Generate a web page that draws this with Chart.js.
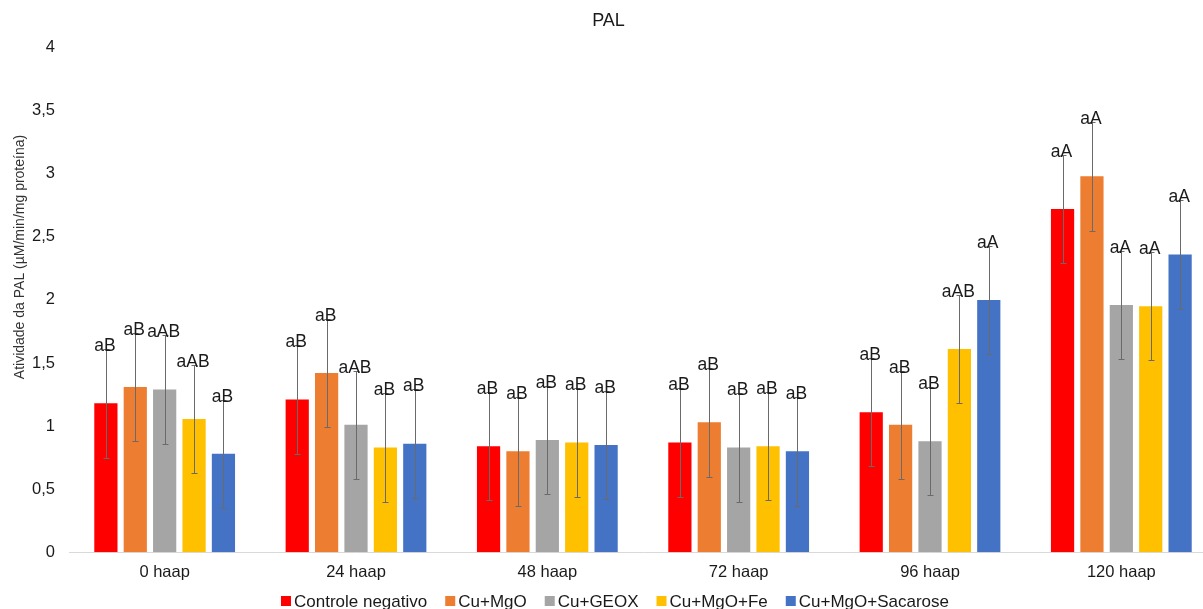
<!DOCTYPE html>
<html><head><meta charset="utf-8">
<script src="https://cdn.jsdelivr.net/npm/chart.js@4.4.1/dist/chart.umd.min.js"></script>
<style>html,body{margin:0;padding:0;overflow:hidden;background:#fff}#wrap{width:1220px;height:609px;position:relative}</style>
</head><body><div id="wrap"><canvas id="c"></canvas></div>
<script>
const categories = ['0 haap','24 haap','48 haap','72 haap','96 haap','120 haap'];
const seriesNames = ['Controle negativo','Cu+MgO','Cu+GEOX','Cu+MgO+Fe','Cu+MgO+Sacarose'];
const yTicks = [0,0.5,1,1.5,2,2.5,3,3.5,4];

const controle  = [1.18, 1.21, 0.84, 0.87, 1.11, 2.72];
const cuMgO     = [1.31, 1.42, 0.80, 1.03, 1.01, 2.98];
const cuGeox    = [1.29, 1.01, 0.89, 0.83, 0.88, 1.96];
const cuMgOFe   = [1.055,0.83, 0.87, 0.84, 1.61, 1.95];
const cuMgOSac  = [0.78, 0.86, 0.85, 0.80, 2.00, 2.36];

const errControle = [0.43,0.43,0.43,0.43,0.43,0.43];
const errCuMgO    = [0.43,0.43,0.43,0.43,0.43,0.43];
const errCuGeox   = [0.43,0.43,0.43,0.43,0.43,0.43];
const errCuMgOFe  = [0.43,0.43,0.43,0.43,0.43,0.43];
const errCuMgOSac = [0.43,0.43,0.43,0.43,0.43,0.43];

const lblControle = ['aB','aB','aB','aB','aB','aA'];
const lblCuMgO    = ['aB','aB','aB','aB','aB','aA'];
const lblCuGeox   = ['aAB','aAB','aB','aB','aB','aA'];
const lblCuMgOFe  = ['aAB','aB','aB','aB','aAB','aA'];
const lblCuMgOSac = ['aB','aB','aB','aB','aA','aA'];

const colors = ['#FF0000','#ED7D31','#A5A5A5','#FFC000','#4472C4'];
const values = [controle,cuMgO,cuGeox,cuMgOFe,cuMgOSac];
const errors = [errControle,errCuMgO,errCuGeox,errCuMgOFe,errCuMgOSac];
const marks  = [lblControle,lblCuMgO,lblCuGeox,lblCuMgOFe,lblCuMgOSac];

const FONT = "'Liberation Sans', Arial, sans-serif";

const overlay = {
  id:'overlay',
  afterDatasetsDraw(chart){
    const ctx = chart.ctx, ys = chart.scales.y;
    ctx.save();
    chart.data.datasets.forEach((ds,i)=>{
      const meta = chart.getDatasetMeta(i);
      meta.data.forEach((bar,j)=>{
        const v = ds.data[j], e = ds.errors[j];
        const yt = Math.round(ys.getPixelForValue(v+e))+0.5;
        const yb = Math.round(ys.getPixelForValue(v-e))+0.5;
        const x = Math.round(bar.x)+0.5;
        ctx.strokeStyle = '#6a6a6a';
        ctx.lineWidth = 1;
        ctx.beginPath();
        ctx.moveTo(x,yt); ctx.lineTo(x,yb);
        ctx.moveTo(x-3,yt); ctx.lineTo(x+3,yt);
        ctx.moveTo(x-3,yb); ctx.lineTo(x+3,yb);
        ctx.stroke();
        ctx.fillStyle = '#1a1a1a';
        ctx.font = "17.5px " + FONT;
        ctx.textAlign = 'center';
        ctx.textBaseline = 'alphabetic';
        ctx.fillText(ds.marks[j], bar.x-1, yt+1);
      });
    });
    ctx.restore();
  },
  afterDraw(chart){
    const ctx = chart.ctx, ca = chart.chartArea;
    ctx.save();
    // y-axis title
    ctx.translate(20.5, ca.top + ca.height*0.415);
    ctx.rotate(-Math.PI/2);
    ctx.fillStyle = '#333';
    ctx.font = "14px " + FONT;
    ctx.textAlign = 'center';
    ctx.textBaseline = 'middle';
    ctx.fillText('Atividade da PAL (µM/min/mg proteína)', 0, 0);
    ctx.restore();
    // legend
    ctx.save();
    ctx.font = "17px " + FONT;
    const box = 10, gapBT = 3, gapItem = 18;
    const dsets = chart.data.datasets;
    const widths = dsets.map(d => box + gapBT + ctx.measureText(d.label).width);
    const total = widths.reduce((a,b)=>a+b,0) + gapItem*(dsets.length-1);
    let x = 615 - total/2;
    const yc = 601;
    ctx.textBaseline = 'middle';
    ctx.textAlign = 'left';
    dsets.forEach((d,i)=>{
      ctx.fillStyle = d.backgroundColor;
      ctx.fillRect(x, yc-5, box, box);
      ctx.fillStyle = '#1a1a1a';
      ctx.fillText(d.label, x+box+gapBT, yc+1);
      x += widths[i] + gapItem;
    });
    ctx.restore();
  }
};

new Chart(document.getElementById('c'), {
  type:'bar',
  data:{
    labels: categories,
    datasets: seriesNames.map((n,i)=>({
      label:n, data:values[i], errors:errors[i], marks:marks[i],
      backgroundColor:colors[i], borderWidth:0,
      categoryPercentage:0.768, barPercentage:0.79
    }))
  },
  options:{
    responsive:true, maintainAspectRatio:false, animation:false,
    layout:{padding:{left:0,right:3,top:0,bottom:17}},
    plugins:{
      title:{display:true,text:'PAL',color:'#1a1a1a',font:{family:FONT,size:18,weight:'normal'},padding:{top:10,bottom:16}},
      legend:{display:false},
      tooltip:{enabled:false}
    },
    scales:{
      x:{
        grid:{display:false,drawTicks:false},
        border:{display:true,color:'#d9d9d9',width:1},
        ticks:{color:'#1a1a1a',font:{family:FONT,size:16.5},padding:10,maxRotation:0}
      },
      y:{
        min:0,max:4,
        afterBuildTicks(s){ s.ticks = yTicks.map(v=>({value:v})); },
        afterFit(s){ s.width = 69; },
        grid:{display:false,drawTicks:false},
        border:{display:false},
        ticks:{color:'#1a1a1a',font:{family:FONT,size:16.5},padding:14,
          callback:v=>String(v).replace('.',',')}
      }
    }
  },
  plugins:[overlay]
});
</script></body></html>
